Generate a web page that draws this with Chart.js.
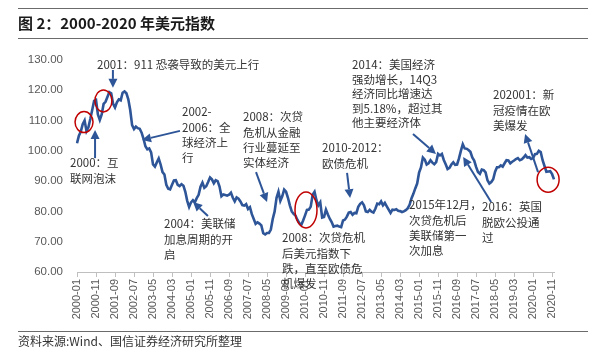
<!DOCTYPE html>
<html>
<head>
<meta charset="utf-8">
<script src="https://cdn.jsdelivr.net/npm/chart.js@4"></script>
<style>
html,body{margin:0;padding:0;background:#fff;}
canvas{display:block;}
</style>
</head>
<body>
<canvas id="c" width="600" height="355"></canvas>
<script>
// ---- DATA ----
const startYear = 2000;
const months = [];
for (let y = 2000; y <= 2020; y++) {
  for (let m = 1; m <= 12; m++) months.push(y + '-' + (m < 10 ? '0' + m : m));
}
const v2000 = [102.5, 105.0, 106.4, 108.8, 110.0, 106.5, 107.8, 110.5, 113.5, 116.5, 116.8, 112.0];
const v2001 = [110.2, 112.0, 115.5, 116.2, 117.8, 119.4, 119.0, 115.5, 114.3, 116.0, 117.0, 116.7];
const v2002 = [119.2, 119.6, 119.0, 117.0, 113.5, 108.5, 107.2, 108.0, 107.5, 107.3, 106.0, 104.0];
const v2003 = [101.5, 100.5, 100.8, 99.5, 95.5, 94.8, 96.2, 97.5, 95.5, 93.0, 92.2, 88.8];
const v2004 = [87.5, 87.3, 88.8, 90.2, 90.3, 88.8, 88.4, 89.0, 88.5, 86.5, 83.5, 81.5];
const v2005 = [83.0, 83.7, 83.0, 84.4, 85.5, 88.2, 89.5, 87.8, 88.3, 89.7, 91.2, 90.6];
const v2006 = [89.3, 90.3, 90.0, 88.2, 85.0, 85.6, 85.4, 85.2, 85.5, 86.2, 84.5, 83.3];
const v2007 = [84.6, 84.2, 83.3, 82.1, 81.9, 82.4, 80.8, 81.4, 79.1, 77.5, 75.9, 76.4];
const v2008 = [76.0, 75.4, 72.8, 72.4, 72.9, 72.9, 74.0, 77.5, 80.0, 84.5, 86.5, 83.5];
const v2009 = [85.0, 87.2, 86.5, 84.5, 82.0, 80.0, 79.2, 78.6, 77.2, 76.1, 75.5, 77.0];
const v2010 = [78.7, 80.5, 80.6, 81.6, 85.5, 86.5, 83.7, 82.0, 83.0, 78.0, 78.2, 80.6];
const v2011 = [79.0, 77.6, 76.5, 75.0, 75.2, 75.3, 75.0, 74.8, 77.0, 77.3, 78.3, 79.6];
const v2012 = [79.8, 78.9, 79.5, 79.4, 81.5, 82.5, 83.0, 82.0, 80.0, 79.8, 80.5, 79.9];
const v2013 = [79.6, 80.9, 82.6, 82.4, 83.3, 82.0, 82.8, 81.7, 80.6, 79.5, 80.6, 80.5];
const v2014 = [80.7, 80.2, 80.1, 79.8, 80.0, 80.4, 81.0, 82.2, 84.3, 85.8, 87.6, 89.2];
const v2015 = [92.8, 94.5, 97.8, 97.1, 95.5, 95.9, 96.9, 96.1, 95.6, 96.3, 99.0, 98.5];
const v2016 = [99.0, 97.0, 95.6, 94.0, 94.4, 95.5, 96.2, 95.4, 95.5, 97.5, 100.0, 102.2];
const v2017 = [100.8, 100.7, 100.3, 99.7, 97.8, 96.8, 94.7, 93.0, 92.4, 93.8, 93.6, 92.9];
const v2018 = [90.3, 89.2, 89.7, 90.6, 93.1, 94.6, 94.6, 95.2, 94.8, 95.9, 96.9, 96.8];
const v2019 = [95.9, 96.4, 96.8, 97.3, 97.6, 96.9, 97.2, 97.8, 98.6, 97.8, 97.9, 97.3];
const v2020 = [97.6, 98.9, 99.0, 100.0, 99.6, 96.9, 95.0, 93.1, 93.2, 93.3, 92.3, 90.6];
const dxy = [].concat(v2000, v2001, v2002, v2003, v2004, v2005, v2006, v2007, v2008, v2009,
  v2010, v2011, v2012, v2013, v2014, v2015, v2016, v2017, v2018, v2019, v2020);
const yTicks = [60, 70, 80, 90, 100, 110, 120, 130];
const labelEvery = 10;

const titleText = '图 2：2000-2020 年美元指数';
const sourceText = '资料来源:Wind、国信证券经济研究所整理';

// annotations: text blocks (pixel layout), arrows & circles anchored in data space (index, value)
const notes = [
  { x: 97, y: 65, lines: ['2001：911 恐袭导致的美元上行'] },
  { x: 70, y: 163, lines: ['2000：互', '联网泡沫'] },
  { x: 182, y: 112, lines: ['2002-', '2006：全', '球经济上', '行'] },
  { x: 164, y: 224, lines: ['2004：美联储', '加息周期的开', '启'] },
  { x: 243, y: 117, lines: ['2008：次贷', '危机从金融', '行业蔓延至', '实体经济'] },
  { x: 282, y: 238, lines: ['2008：次贷危机', '后美元指数下', '跌，直至欧债危', '机爆发'] },
  { x: 322, y: 148, lines: ['2010-2012：', '欧债危机'] },
  { x: 352, y: 65, lines: ['2014：美国经济', '强劲增长，14Q3', '经济同比增速达', '到5.18%，超过其', '他主要经济体'], gap: 14.5 },
  { x: 493, y: 95, lines: ['202001：新', '冠疫情在欧', '美爆发'] },
  { x: 409, y: 205, lines: ['2015年12月，', '次贷危机后', '美联储第一', '次加息'] },
  { x: 482, y: 207, lines: ['2016：英国', '脱欧公投通', '过'] }
];
const arrows = [
  { from: [18.9, 126.7], to: [18.9, 120.8] },
  { from: [9.5, 97.6], to: [9.5, 106.9] },
  { from: [54.2, 106.6], to: [34.2, 103.6] },
  { from: [68.9, 78.5], to: [61.1, 83.1] },
  { from: [94.2, 93.0], to: [100.0, 83.1] },
  { from: [142.1, 92.7], to: [143.7, 84.4] },
  { from: [176.8, 105.6], to: [188.9, 99.0] },
  { from: [217.9, 83.1], to: [203.2, 98.0] },
  { from: [242.6, 93.0], to: [235.8, 105.6] }
];
const circles = [
  { at: [3.7, 109.5], rx: 9, ry: 10.5 },
  { at: [13.9, 116.5], rx: 8.5, ry: 11 },
  { at: [120.5, 80.5], rx: 11, ry: 18 },
  { at: [247.9, 90.5], rx: 11, ry: 12.5 }
];

const LINE_COLOR = '#2D5597';
const AXIS_GRAY = '#BFBFBF';
const TEXT_GRAY = '#595959';
const NOTE_COLOR = '#333333';
const FONT = "'Liberation Sans', 'Noto Sans CJK SC', sans-serif";
const CJK = "'Noto Sans CJK SC', 'Liberation Sans', sans-serif";

const decor = {
  id: 'decor',
  afterDraw(chart) {
    const ctx = chart.ctx;
    const xs = chart.scales.x, ys = chart.scales.y;
    const px = (i) => xs.left + (xs.right - xs.left) * i / (months.length - 1);
    const py = (v) => ys.getPixelForValue(v);
    ctx.save();
    // header / footer rules
    ctx.strokeStyle = '#6b6b6b';
    ctx.lineWidth = 1.2;
    [8, 38, 331].forEach(yy => {
      ctx.beginPath(); ctx.moveTo(18, yy + 0.5); ctx.lineTo(588, yy + 0.5); ctx.stroke();
    });
    ctx.fillStyle = '#1a1a1a';
    ctx.font = "bold 15px " + CJK;
    ctx.textBaseline = 'middle';
    ctx.textAlign = 'left';
    ctx.fillText(titleText, 18, 23);
    ctx.fillStyle = '#333333';
    ctx.font = "12px " + CJK;
    ctx.fillText(sourceText, 18, 341);

    // circles
    ctx.strokeStyle = '#C00000';
    ctx.lineWidth = 1.5;
    circles.forEach(c => {
      ctx.beginPath();
      ctx.ellipse(px(c.at[0]), py(c.at[1]), c.rx, c.ry, 0, 0, Math.PI * 2);
      ctx.stroke();
    });

    // arrows
    ctx.strokeStyle = LINE_COLOR;
    ctx.fillStyle = LINE_COLOR;
    ctx.lineWidth = 2;
    arrows.forEach(a => {
      const x1 = px(a.from[0]), y1 = py(a.from[1]);
      const x2 = px(a.to[0]), y2 = py(a.to[1]);
      const ang = Math.atan2(y2 - y1, x2 - x1);
      const hl = 9, hw = 4.5;
      const bx = x2 - hl * Math.cos(ang), by = y2 - hl * Math.sin(ang);
      ctx.beginPath(); ctx.moveTo(x1, y1); ctx.lineTo(bx, by); ctx.stroke();
      ctx.beginPath();
      ctx.moveTo(x2, y2);
      ctx.lineTo(bx + hw * Math.sin(ang), by - hw * Math.cos(ang));
      ctx.lineTo(bx - hw * Math.sin(ang), by + hw * Math.cos(ang));
      ctx.closePath(); ctx.fill();
    });

    // notes
    ctx.fillStyle = NOTE_COLOR;
    ctx.font = "11.5px " + CJK;
    ctx.textBaseline = 'middle';
    notes.forEach(n => {
      const g = n.gap || 15.3;
      n.lines.forEach((t, k) => ctx.fillText(t, n.x, n.y + k * g));
    });
    ctx.restore();
  }
};

new Chart(document.getElementById('c'), {
  type: 'line',
  data: {
    labels: months,
    datasets: [{
      data: dxy,
      borderColor: LINE_COLOR,
      borderWidth: 2.6,
      pointRadius: 0,
      tension: 0,
      fill: false
    }]
  },
  options: {
    responsive: false,
    animation: false,
    layout: { padding: { top: 60, right: 46, bottom: 0, left: 0 } },
    plugins: { legend: { display: false }, tooltip: { enabled: false } },
    scales: {
      x: {
        offset: false,
        grid: { display: true, drawOnChartArea: false, drawTicks: true, tickLength: 5, color: AXIS_GRAY },
        border: { display: true, color: AXIS_GRAY, width: 1 },
        ticks: {
          autoSkip: false, minRotation: 90, maxRotation: 90, padding: 2,
          color: TEXT_GRAY, font: { size: 11, family: FONT },
          callback: function (v, i) { return i % labelEvery === 0 ? months[i] : null; }
        },
        afterFit: function (s) { s.height = 83; }
      },
      y: {
        min: yTicks[0], max: yTicks[yTicks.length - 1],
        afterBuildTicks: function (s) { s.ticks = yTicks.map(v => ({ value: v })); },
        grid: { display: false, drawTicks: false },
        border: { display: false },
        ticks: {
          padding: 14, color: TEXT_GRAY, font: { size: 11.5, family: FONT },
          callback: function (v) { return Number(v).toFixed(2); }
        },
        afterFit: function (s) { s.width = 77; }
      }
    }
  },
  plugins: [decor]
});
</script>
</body>
</html>
